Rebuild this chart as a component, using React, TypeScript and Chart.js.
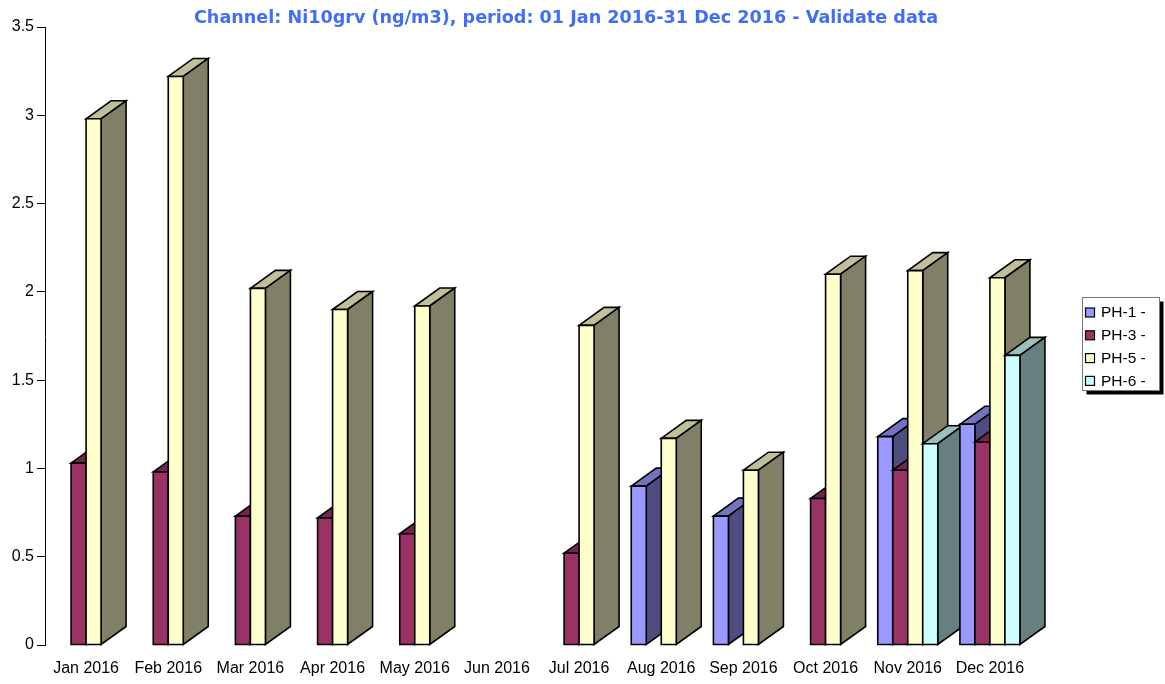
import React, { useEffect, useRef } from 'react';
import { Chart, registerables } from 'chart.js';

Chart.register(...registerables);

const categories = ['Jan 2016', 'Feb 2016', 'Mar 2016', 'Apr 2016', 'May 2016', 'Jun 2016', 'Jul 2016', 'Aug 2016', 'Sep 2016', 'Oct 2016', 'Nov 2016', 'Dec 2016'];
const seriesNames = ['PH-1 -', 'PH-3 -', 'PH-5 -', 'PH-6 -'];
const ph1: (number | null)[] = [null, null, null, null, null, null, null, 0.90, 0.73, null, 1.18, 1.25];
const ph3: (number | null)[] = [1.03, 0.98, 0.73, 0.72, 0.63, null, 0.52, null, null, 0.83, 0.99, 1.15];
const ph5: (number | null)[] = [2.98, 3.22, 2.02, 1.90, 1.92, null, 1.81, 1.17, 0.99, 2.10, 2.12, 2.08];
const ph6: (number | null)[] = [null, null, null, null, null, null, null, null, null, null, 1.14, 1.64];
const seriesValues = [ph1, ph3, ph5, ph6];
const seriesColors = ['#9999FF', '#993366', '#FFFFCC', '#CCFFFF'];
const titleText = 'Channel: Ni10grv (ng/m3), period: 01 Jan 2016-31 Dec 2016 - Validate data';
const yMin = 0;
const yMax = 3.5;
const yStep = 0.5;

function shade(hex: string, f: number): string {
  const n = parseInt(hex.slice(1), 16);
  const r = Math.round(((n >> 16) & 255) * f);
  const g = Math.round(((n >> 8) & 255) * f);
  const b = Math.round((n & 255) * f);
  return `rgb(${r},${g},${b})`;
}

const DX = 25;
const DY = 18;

const bars3d = {
  id: 'bars3d',
  afterDatasetsDraw(chart: any) {
    const ctx = chart.ctx as CanvasRenderingContext2D;
    ctx.save();
    ctx.lineWidth = 1.6;
    ctx.strokeStyle = '#000';
    ctx.lineJoin = 'miter';
    const poly = (pts: number[][], fill: string) => {
      ctx.beginPath();
      ctx.moveTo(pts[0][0], pts[0][1]);
      for (let k = 1; k < pts.length; k++) ctx.lineTo(pts[k][0], pts[k][1]);
      ctx.closePath();
      ctx.fillStyle = fill;
      ctx.fill();
      ctx.stroke();
    };
    for (let i = 0; i < categories.length; i++) {
      chart.data.datasets.forEach((ds: any, d: number) => {
        const v = ds.data[i];
        if (v == null) return;
        const el = chart.getDatasetMeta(d).data[i];
        if (!el) return;
        const p = el.getProps(['x', 'y', 'base', 'width'], true);
        const l = p.x - p.width / 2;
        const r = p.x + p.width / 2;
        const y = p.y;
        const b = p.base;
        const c = seriesColors[d];
        poly([[l, y], [l + DX, y - DY], [r + DX, y - DY], [r, y]], shade(c, 0.75));
        poly([[r, y], [r + DX, y - DY], [r + DX, b - DY], [r, b]], shade(c, 0.5));
        poly([[l, y], [r, y], [r, b], [l, b]], c);
      });
    }
    ctx.restore();
  },
  afterDraw(chart: any) {
    const ctx = chart.ctx as CanvasRenderingContext2D;
    ctx.save();
    // title
    ctx.font = 'bold 17.6px "DejaVu Sans"';
    ctx.fillStyle = '#406ef5';
    ctx.textAlign = 'center';
    ctx.textBaseline = 'middle';
    ctx.fillText(titleText, 566, 18);
    // legend
    const bx = 1082.5, by = 297.5, bw = 77, bh = 93;
    ctx.fillStyle = '#000';
    ctx.fillRect(bx + 4, by + 4, bw, bh);
    ctx.fillStyle = '#fff';
    ctx.fillRect(bx, by, bw, bh);
    ctx.strokeStyle = '#777';
    ctx.lineWidth = 1;
    ctx.strokeRect(bx, by, bw, bh);
    ctx.font = '15.5px "Liberation Sans"';
    ctx.textAlign = 'left';
    ctx.textBaseline = 'middle';
    seriesNames.forEach((name, k) => {
      const cy = 312.5 + k * 22.8;
      ctx.fillStyle = seriesColors[k];
      ctx.fillRect(1085.5, cy - 4.5, 9, 9);
      ctx.strokeStyle = '#000';
      ctx.lineWidth = 1.2;
      ctx.strokeRect(1085.5, cy - 4.5, 9, 9);
      ctx.fillStyle = '#000';
      ctx.fillText(name, 1101, cy + 0.5);
    });
    ctx.restore();
  },
};

export default function App() {
  const ref = useRef<HTMLCanvasElement | null>(null);
  useEffect(() => {
    if (!ref.current) return;
    const chart = new Chart(ref.current, {
      type: 'bar',
      data: {
        labels: categories,
        datasets: seriesValues.map((vals, d) => ({
          label: seriesNames[d],
          data: vals,
          backgroundColor: 'rgba(0,0,0,0)',
          borderWidth: 0,
          barThickness: 15,
        })),
      },
      options: {
        animation: false,
        responsive: false,
        devicePixelRatio: 1,
        layout: { padding: { top: 27, right: 134, left: 0, bottom: 0 } },
        plugins: {
          legend: { display: false },
          title: { display: false },
          tooltip: { enabled: false },
        },
        scales: {
          x: {
            grid: { display: false, drawTicks: false },
            border: { display: false },
            ticks: {
              padding: 14,
              color: '#000',
              font: { family: '"Liberation Sans"', size: 16 },
              maxRotation: 0,
              autoSkip: false,
            },
            afterFit: (s: any) => { s.height = 39; },
          },
          y: {
            min: yMin,
            max: yMax,
            grid: { drawOnChartArea: false, drawTicks: true, tickLength: 8, color: '#000', lineWidth: 1 },
            border: { display: true, color: '#000', width: 1 },
            ticks: {
              stepSize: yStep,
              padding: 3,
              color: '#000',
              font: { family: '"Liberation Sans"', size: 16 },
              callback: (v: any) => String(Number(v)),
            },
            afterFit: (s: any) => { s.width = 45; },
          },
        },
      },
      plugins: [bars3d],
    });
    return () => chart.destroy();
  }, []);
  return (
    <div style={{ position: 'fixed', left: 0, top: 0, width: 1165, height: 684, background: '#fff' }}>
      <canvas ref={ref} width={1165} height={684} />
    </div>
  );
}
